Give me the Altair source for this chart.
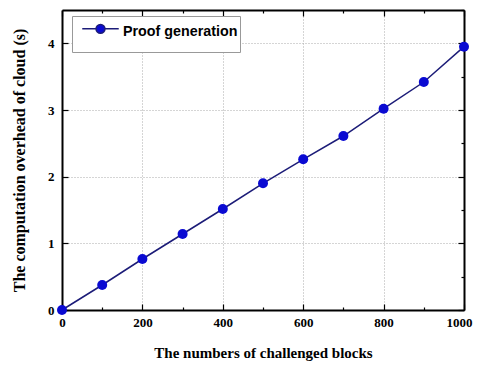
import altair as alt
import pandas as pd

blocks = [0, 100, 200, 300, 400, 500, 600, 700, 800, 900, 1000]
overhead = [0.0, 0.375, 0.765, 1.14, 1.515, 1.90, 2.26, 2.61, 3.02, 3.42, 3.95]
series_name = "Proof generation"

x_ticks = [0, 100, 200, 300, 400, 500, 600, 700, 800, 900, 1000]
y_ticks = [0, 0.5, 1, 1.5, 2, 2.5, 3, 3.5, 4, 4.5]

df = pd.DataFrame({"blocks": blocks, "overhead": overhead,
                   "series": [series_name] * len(blocks)})

SERIF = "Liberation Serif"
LINE_C = "#1c1c78"
PT_C = "#0a0ad2"

xscale = alt.Scale(domain=[0, 1000], nice=False, zero=False)
yscale = alt.Scale(domain=[0, 4.5], nice=False, zero=False)

xmaj = "datum.value % 200 == 0"
ymaj = "datum.value % 1 == 0"

x_axis = alt.Axis(
    values=x_ticks, format="d", labelExpr=f"{xmaj} ? datum.label : ''",
    title="The numbers of challenged blocks",
    tickSize={"condition": {"test": xmaj, "value": -6}, "value": -3},
    tickColor="black", tickWidth=1.2,
    gridOpacity={"condition": {"test": f"{xmaj} && datum.value > 0 && datum.value < 1000", "value": 1}, "value": 0},
    gridDash=[1, 2], gridColor="#aaaaaa", gridWidth=1,
    domainColor="black", domainWidth=2,
    labelFont=SERIF, labelFontWeight="bold", labelFontSize=13, labelColor="black",
    labelPadding=12, labelFlush=False,
    labelOffset={"condition": {"test": "datum.value == 1000", "value": -5}, "value": 0},
    titleFont=SERIF, titleFontWeight="bold", titleFontSize=15, titleColor="black",
    titlePadding=16,
)
y_axis = alt.Axis(
    values=y_ticks, format="d", labelExpr=f"{ymaj} ? datum.label : ''",
    title="The computation overhead of cloud (s)",
    tickSize={"condition": {"test": ymaj, "value": -6}, "value": -3},
    tickColor="black", tickWidth=1.2,
    gridOpacity={"condition": {"test": f"{ymaj} && datum.value > 0", "value": 1}, "value": 0},
    gridDash=[1, 2], gridColor="#aaaaaa", gridWidth=1,
    domainColor="black", domainWidth=2,
    labelFont=SERIF, labelFontWeight="bold", labelFontSize=13, labelColor="black",
    labelPadding=14,
    titleFont=SERIF, titleFontWeight="bold", titleFontSize=16, titleColor="black",
    titlePadding=20,
)

base = alt.Chart(df)

line = base.mark_line(color=LINE_C, strokeWidth=1.5).encode(
    x=alt.X("blocks:Q", scale=xscale, axis=x_axis),
    y=alt.Y("overhead:Q", scale=yscale, axis=y_axis),
)

points = base.mark_point(filled=True, size=100, opacity=1).encode(
    x=alt.X("blocks:Q", scale=xscale),
    y=alt.Y("overhead:Q", scale=yscale),
    color=alt.Color("series:N", scale=alt.Scale(range=[PT_C]), legend=alt.Legend(
        title=" ", titleOrient="bottom", titleFontSize=9, titlePadding=2,
        orient="none", legendX=10, legendY=6,
        fillColor="white", strokeColor="#999999", padding=2,
        symbolType="M-1.1,-0.4H-0.27M0.27,-0.4H1.1M0.27,-0.4A0.27,0.27 0 1,1 -0.27,-0.4A0.27,0.27 0 1,1 0.27,-0.4Z",
        symbolSize=1100, symbolStrokeColor=LINE_C, symbolStrokeWidth=1.5,
        symbolFillColor=PT_C, symbolOpacity=1, symbolOffset=9,
        labelFont="Liberation Sans", labelFontWeight="bold", labelFontSize=14.3,
        labelColor="black", labelOffset=5, labelBaseline="alphabetic",
        labelExpr="datum.label + '   '",
    )),
)

frame = base.mark_line(opacity=0).encode(
    x=alt.X("blocks:Q", scale=xscale, axis=alt.Axis(
        orient="top", values=x_ticks, labels=False, title=None, grid=False,
        tickSize={"condition": {"test": xmaj, "value": -6}, "value": -3},
        tickColor="black", tickWidth=1.2, domainColor="black", domainWidth=2)),
    y=alt.Y("overhead:Q", scale=yscale, axis=alt.Axis(
        orient="right", values=y_ticks, labels=False, title=None, grid=False,
        tickSize={"condition": {"test": ymaj, "value": -6}, "value": -3},
        tickColor="black", tickWidth=1.2, domainColor="black", domainWidth=2)),
)

chart = alt.layer(alt.layer(line, points), frame).resolve_scale(
    x="independent", y="independent"
).properties(
    width=402, height=300,
    autosize=alt.AutoSizeParams(type="none"),
    padding={"left": 54, "top": 2, "right": 10, "bottom": 55},
    background="white",
).configure_view(stroke=None)

chart.save("out.html", embed_options={"renderer": "svg", "actions": False})
